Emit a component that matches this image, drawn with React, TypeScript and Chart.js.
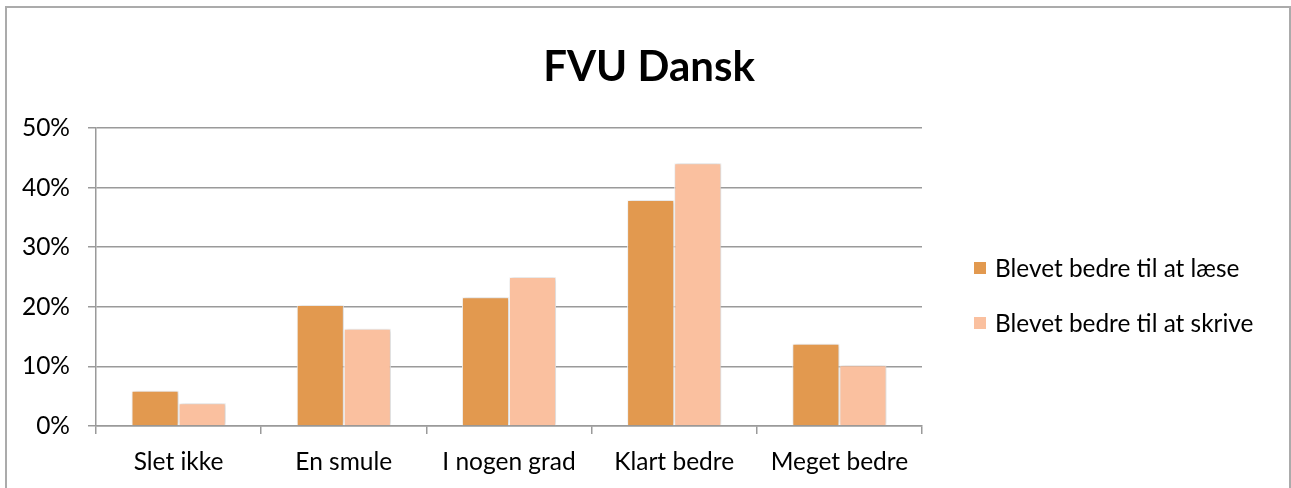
import React, { useEffect, useRef } from "react";
import { Chart, registerables } from "chart.js";

Chart.register(...registerables);

const title = "FVU Dansk";
const categories = ["Slet ikke", "En smule", "I nogen grad", "Klart bedre", "Meget bedre"];
const seriesNames = ["Blevet bedre til at læse", "Blevet bedre til at skrive"];
const readValues = [5.9, 20.3, 21.6, 37.9, 13.8];
const writeValues = [3.8, 16.3, 25.0, 44.1, 10.2];
const seriesColors = ["#E2994F", "#FAC09F"];
const yTicks = [0, 10, 20, 30, 40, 50];

const FONT = "Lato, 'Open Sans', sans-serif";

export default function App() {
  const ref = useRef<HTMLCanvasElement | null>(null);

  useEffect(() => {
    if (!ref.current) return;

    const shadowPlugin = {
      id: "barShadow",
      beforeDatasetsDraw(chart: any) {
        const ctx = chart.ctx;
        ctx.save();
        ctx.shadowColor = "rgba(0,0,0,0.22)";
        ctx.shadowBlur = 4;
        ctx.shadowOffsetX = 1;
        ctx.shadowOffsetY = 0;
      },
      afterDatasetsDraw(chart: any) {
        chart.ctx.restore();
      },
    };

    const decorPlugin = {
      id: "decor",
      afterDraw(chart: any) {
        const ctx = chart.ctx;
        const area = chart.chartArea;
        ctx.save();
        // title
        ctx.fillStyle = "#000";
        ctx.font = `bold 42px ${FONT}`;
        ctx.textAlign = "center";
        ctx.textBaseline = "middle";
        ctx.fillText(title, 649, 67);
        // legend
        ctx.font = `24.4px ${FONT}`;
        ctx.textAlign = "left";
        const rows = [268, 323];
        chart.data.datasets.forEach((ds: any, i: number) => {
          const y = rows[i];
          ctx.fillStyle = ds.backgroundColor;
          ctx.fillRect(area.right + 52, y - 6, 12, 12);
          ctx.fillStyle = "#000";
          ctx.fillText(ds.label, area.right + 73, y + 1);
        });
        ctx.restore();
      },
    };

    const chart = new Chart(ref.current, {
      type: "bar",
      data: {
        labels: categories,
        datasets: [
          {
            label: seriesNames[0],
            data: readValues,
            backgroundColor: seriesColors[0],
            borderColor: "#FFFFFF",
            borderWidth: 1,
          },
          {
            label: seriesNames[1],
            data: writeValues,
            backgroundColor: seriesColors[1],
            borderColor: "#FFFFFF",
            borderWidth: 1,
          },
        ],
      },
      options: {
        responsive: false,
        animation: false,
        layout: { padding: { left: 0, right: 369, top: 128, bottom: 0 } },
        datasets: {
          bar: { categoryPercentage: 0.57, barPercentage: 1 },
        },
        plugins: {
          legend: { display: false },
          title: { display: false },
          tooltip: { enabled: false },
        },
        scales: {
          x: {
            afterFit(scale: any) {
              scale.height = 62;
            },
            grid: {
              offset: true,
              drawOnChartArea: false,
              drawTicks: true,
              tickLength: 8,
              color: "#9A9A9A",
              lineWidth: 1.5,
            },
            border: { display: true, color: "#9A9A9A", width: 1.5 },
            ticks: {
              color: "#000",
              font: { family: FONT, size: 24.5 },
              padding: 13,
              maxRotation: 0,
              autoSkip: false,
            },
          },
          y: {
            min: 0,
            max: 50,
            afterFit(scale: any) {
              scale.width = 96;
            },
            afterBuildTicks(scale: any) {
              scale.ticks = yTicks.map((v) => ({ value: v }));
            },
            grid: {
              color: "#9A9A9A",
              lineWidth: 1.5,
              drawTicks: true,
              tickLength: 8,
            },
            border: { display: true, color: "#9A9A9A", width: 1.5 },
            ticks: {
              color: "#000",
              font: { family: FONT, size: 24.5 },
              padding: 18,
              callback: (v: any) => `${v}%`,
            },
          },
        },
      },
      plugins: [shadowPlugin, decorPlugin],
    });

    return () => chart.destroy();
  }, []);

  return (
    <div style={{ position: "absolute", left: 0, top: 0, width: 1291, height: 488, background: "#fff", overflow: "hidden" }}>
      <div
        style={{
          position: "absolute",
          left: 5,
          top: 6,
          width: 1286,
          height: 492,
          border: "2px solid #ABABAB",
          boxSizing: "border-box",
        }}
      />
      <canvas ref={ref} width={1291} height={488} style={{ position: "absolute", left: 0, top: 0 }} />
    </div>
  );
}
